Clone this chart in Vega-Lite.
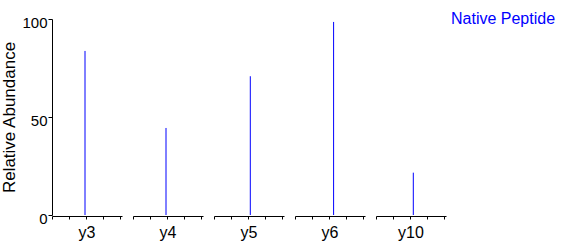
{
  "$schema": "https://vega.github.io/schema/vega-lite/v6.json",
  "padding": {"top": 15, "left": 0, "right": 5, "bottom": 0},
  "background": "white",
  "data": {"values": [
    {"ion": "y3", "offset": 33, "abundance": 83.7, "series": "Native Peptide"},
    {"ion": "y4", "offset": 33, "abundance": 44.4, "series": "Native Peptide"},
    {"ion": "y5", "offset": 36.3, "abundance": 70.8, "series": "Native Peptide"},
    {"ion": "y6", "offset": 38.6, "abundance": 98.5, "series": "Native Peptide"},
    {"ion": "y10", "offset": 37.3, "abundance": 21.6, "series": "Native Peptide"}
  ]},
  "facet": {
    "column": {
      "field": "ion",
      "type": "nominal",
      "sort": ["y3", "y4", "y5", "y6", "y10"],
      "header": {
        "title": null,
        "labelOrient": "bottom",
        "labelFont": "Liberation Sans",
        "labelFontSize": 16,
        "labelFontWeight": "normal",
        "labelColor": "black",
        "labelPadding": 5
      }
    }
  },
  "spacing": 11,
  "spec": {
    "width": 70,
    "height": 196,
    "mark": {"type": "rule", "strokeWidth": 1},
    "encoding": {
      "x": {
        "field": "offset",
        "type": "quantitative",
        "scale": {"domain": [0, 70], "nice": false, "zero": false},
        "axis": {
          "title": null,
          "labels": false,
          "grid": false,
          "values": [0, 17, 34, 51, 68],
          "tickSize": 3,
          "tickColor": "black",
          "domainColor": "black"
        }
      },
      "y": {
        "field": "abundance",
        "type": "quantitative",
        "scale": {"domain": [0, 100], "nice": false},
        "axis": {
          "title": "Relative Abundance",
          "titleFont": "Liberation Sans",
          "titleFontSize": 17,
          "titleFontWeight": "normal",
          "titleColor": "black",
          "titlePadding": 3,
          "labelFont": "Liberation Sans",
          "labelFontSize": 15,
          "labelFontWeight": "normal",
          "labelColor": "black",
          "labelPadding": 1,
          "labelOffset": 3,
          "values": [0, 50, 100],
          "grid": false,
          "tickSize": 4,
          "tickColor": "black",
          "domainColor": "black"
        }
      },
      "y2": {"datum": 0},
      "color": {
        "field": "series",
        "type": "nominal",
        "scale": {"range": ["#0000ff"]},
        "legend": {
          "title": null,
          "orient": "right",
          "offset": -11,
          "symbolSize": 0,
          "symbolStrokeWidth": 0,
          "labelOffset": 0,
          "labelBaseline": "bottom",
          "labelFont": "Liberation Sans",
          "labelFontSize": 16,
          "labelColor": "#0000ff"
        }
      }
    }
  },
  "config": {
    "view": {"stroke": null},
    "axis": {"domainWidth": 1, "tickWidth": 1}
  }
}
